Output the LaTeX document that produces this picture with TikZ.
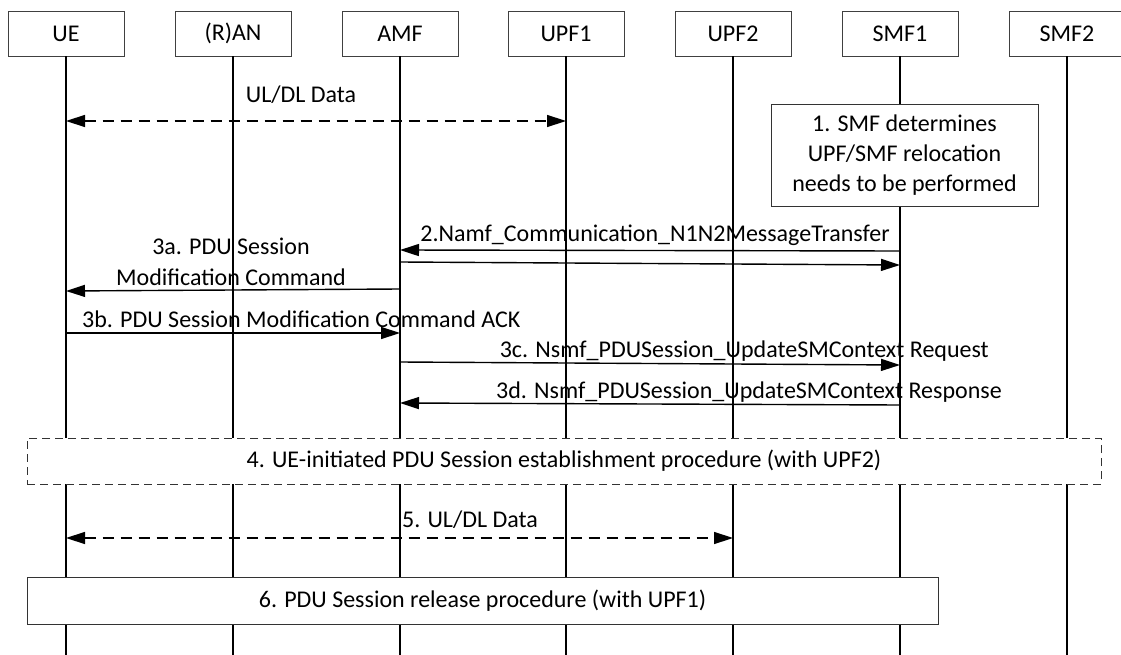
\documentclass[tikz,border=0pt]{standalone}
\usepackage{fontspec}
\setmainfont{Carlito}
\usetikzlibrary{arrows.meta}
\begin{document}
\begin{tikzpicture}[x=1pt,y=-1pt,
  every node/.style={font=\fontsize{24}{30}\selectfont, inner sep=0pt},
  hdr/.style={draw=black!75, line width=0.8pt, fill=white, minimum width=116pt, minimum height=45pt},
  life/.style={line width=1.4pt},
  msg/.style={line width=1.4pt, -{Triangle[length=19pt,width=12pt]}},
  dmsg/.style={line width=1.4pt, dash pattern=on 11pt off 7pt, {Triangle[length=19pt,width=12pt]}-{Triangle[length=19pt,width=12pt]}},
  lbl/.style={anchor=base},
  procbox/.style={draw=black!80, line width=0.9pt, fill=white, align=center},
  dprocbox/.style={draw=black!80, line width=0.9pt, fill=white, dash pattern=on 8pt off 5pt},
]
\useasboundingbox (0,0) rectangle (1121,655);
\fill[white] (0,0) rectangle (1121,655);
% headers
\node[hdr] (UE)   at (66,33.5)   {UE};
\node[hdr] (RAN)  at (233,33.5)  {(R)AN};
\node[hdr] (AMF)  at (400,33.5)  {AMF};
\node[hdr] (UPF1) at (566,33.5)  {UPF1};
\node[hdr] (UPF2) at (733,33.5)  {UPF2};
\node[hdr] (SMF1) at (900,33.5)  {SMF1};
\node[hdr] (SMF2) at (1067,33.5) {SMF2};
% bottom
\coordinate (bot) at (0,655);
\foreach \n in {UE,RAN,AMF,UPF1,UPF2,SMF1,SMF2}
  \draw[life] (\n.south) -- (\n.south |- bot);
% y levels
\coordinate (y0) at (0,121);
\coordinate (y2a) at (0,250);
\coordinate (y2b) at (0,251);
\coordinate (y2c) at (0,262);
\coordinate (y2d) at (0,265);
\coordinate (y3a) at (0,289);
\coordinate (y3aa) at (0,291);
\coordinate (y3b) at (0,333);
\coordinate (y3c) at (0,362);
\coordinate (y3cc) at (0,365);
\coordinate (y3d) at (0,405);
\coordinate (y3dd) at (0,403);
\coordinate (y5) at (0,538);
% UL/DL data
\draw[dmsg] (UE |- y0) -- (UPF1 |- y0);
\node[lbl] (l0) at (301,103) {UL/DL Data};
% step 1
\node[procbox, minimum width=267pt, minimum height=102pt] (s1) at (904.5,155.5) {1. SMF determines\\UPF/SMF relocation\\needs to be performed};
% step 2
\draw[msg] (SMF1 |- y2b) -- (AMF |- y2a);
\node[lbl] (l2) at (655,241) {2.Namf\_Communication\_N1N2MessageTransfer};
\draw[msg] (AMF |- y2c) -- (SMF1 |- y2d);
% 3a
\draw[msg] (AMF |- y3a) -- (UE |- y3aa);
\node[lbl] (l3a1) at (231,254) {3a. PDU Session};
\node[lbl] (l3a2) at (231,285) {Modification Command};
% 3b
\draw[msg] (UE |- y3b) -- (AMF |- y3b);
\node[anchor=base west] (l3b) at (82,327) {3b. PDU Session Modification Command ACK};
% 3c
\draw[msg] (AMF |- y3c) -- (SMF1 |- y3cc);
\node[anchor=base east] (l3c) at (989,357) {3c. Nsmf\_PDUSession\_UpdateSMContext Request};
% 3d
\draw[msg] (SMF1 |- y3d) -- (AMF |- y3dd);
\node[anchor=base east] (l3d) at (1002,398) {3d. Nsmf\_PDUSession\_UpdateSMContext Response};
% 4
\node[dprocbox, minimum width=1074pt, minimum height=46pt] (s4) at (564,461) {4. UE-initiated PDU Session establishment procedure (with UPF2)};
% 5
\draw[dmsg] (UE |- y5) -- (UPF2 |- y5);
\node[lbl] (l5) at (470,527) {5. UL/DL Data};
% 6
\node[procbox, minimum width=911pt, minimum height=47pt] (s6) at (482.5,600.5) {6. PDU Session release procedure (with UPF1)};
\end{tikzpicture}
\end{document}
